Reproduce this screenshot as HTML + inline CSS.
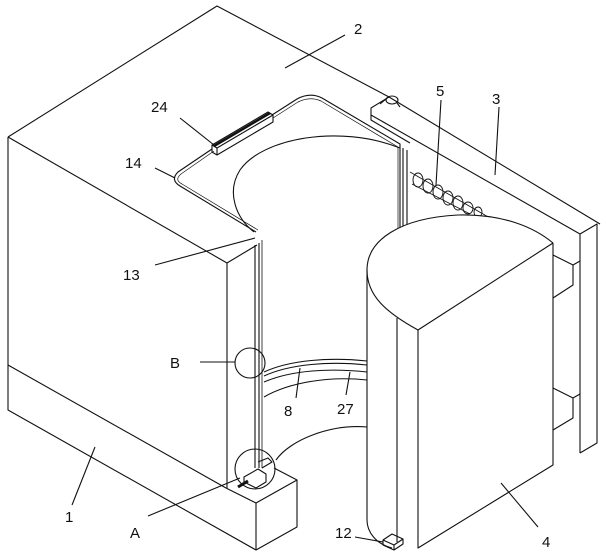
<!DOCTYPE html>
<html><head><meta charset="utf-8"><style>
html,body{margin:0;padding:0;background:#fff;}
svg{display:block;}
text{font-family:"Liberation Sans",sans-serif;font-size:15px;fill:#111;}
</style></head><body>
<svg width="606" height="559" viewBox="0 0 606 559" xmlns="http://www.w3.org/2000/svg">
<g fill="none" stroke="#111" stroke-width="1.1" stroke-linejoin="round">
<!-- top face box 2 -->
<path d="M8,137 L217,6 L389,97"/>
<path d="M389,97 L600,224"/>
<!-- left box 1 -->
<path d="M8,137 L8,410 L256,550"/>
<path d="M8,137 L227,263"/>
<path d="M8,365 L226,488"/>
<path d="M227,263 L227,488"/>
<path d="M227,263 L257,245"/>
<path d="M255,245 L255,468"/>
<path d="M259,243 L259,468"/>
<path d="M262,240 L262,468" stroke-width="0.8"/>
<!-- pedestal -->
<path d="M226,488 L256,503 L297,480 L274,468"/>
<path d="M256,503 L256,550 L297,527 L297,480"/>
<!-- cutout arc -->
<path d="M254,232 C236,218 226,192 240,170 C262,138 340,124 400,148"/>
<!-- wire 14 -->
<path d="M256,232 L180,186 Q170,180 178,172 L212,149"/>
<path d="M258,230 L182,184 Q174,180 181,174 L214,151" stroke-width="0.7"/>
<path d="M272,115 L297,99 Q310,92 322,98 L400,144 L400,240"/>
<path d="M273,118 L298,102 Q310,96 321,101 L398,147 L398,240" stroke-width="0.7"/>
<path d="M403,148 L403,240"/>
<path d="M407,150 L407,240"/>
<!-- box 24 -->
<path d="M212,145 L268,112 L273,115 L273,122 L217,155 L212,152 Z"/>
<path d="M212,145 L217,148 L273,115 M217,148 L217,155"/>
<path d="M214,146 L270,113" stroke-width="2.5"/>
<!-- frame 3 -->
<path d="M371,115 L580,234 L580,453 M580,234 L597,224 L597,443 L580,453"/>
<path d="M371,115 L371,120 L410,143"/>
<path d="M389,97 L371,108 L371,115"/>
<ellipse cx="392" cy="100" rx="6" ry="4"/>
<path d="M380,104 L386,99 M397,103 L400,107"/>
<!-- springs -->
<path d="M410,172 L490,218 M412,184 L470,214" stroke-width="0.8"/>
<g stroke-width="0.9">
<ellipse cx="418" cy="180" rx="5" ry="7"/><ellipse cx="428" cy="186" rx="5" ry="7"/><ellipse cx="438" cy="192" rx="5" ry="7"/><ellipse cx="448" cy="198" rx="5" ry="7"/><ellipse cx="458" cy="203" rx="5" ry="7"/><ellipse cx="468" cy="208" rx="5" ry="6"/><ellipse cx="478" cy="212" rx="4" ry="5"/>
</g>
<!-- cylinder 4 -->
<path d="M367,270 C367,240 400,218 458,215 C505,214 535,228 553,243" fill="#fff"/>
<path d="M367,270 C367,295 385,312 418,330"/>
<path d="M553,243 L418,330"/>
<path d="M418,330 L418,548 L553,465 L553,243"/>
<path d="M397,318 L397,542"/>
<path d="M367,270 L367,520 C367,532 376,544 392,548"/>
<!-- brackets -->
<path d="M553,255 L573,265 L580,261 M573,265 L573,285 L553,298"/>
<path d="M553,388 L573,398 L580,394 M573,398 L573,418 L553,430"/>
<!-- track arcs -->
<path d="M264,372 C290,360 330,357 367,361"/>
<path d="M264,376 C290,364 330,361 367,365"/>
<path d="M264,382 C292,370 330,368 367,372"/>
<path d="M264,397 C290,382 330,376 367,380"/>
<path d="M276,460 C290,440 330,424 367,427"/>
<!-- B circle -->
<circle cx="250" cy="363" r="15"/>
<!-- A circle -->
<circle cx="255" cy="469" r="20"/>
<path d="M244,477 L258,469 L266,474 L266,482 L256,488 L244,482 Z"/>
<path d="M258,462 L268,458 L272,462 L262,468"/>
<path d="M238,487 L248,481" stroke-width="3"/>
<!-- 12 box -->
<path d="M383,540 L392,534 L403,539 L403,544 L394,550 L383,545 Z M383,540 L394,545 L403,539 M394,545 L394,550"/>
<!-- leaders -->
<path d="M285,68 L345,35"/>
<path d="M180,118 L214,145"/>
<path d="M155,168 L175,178"/>
<path d="M155,265 L255,238"/>
<path d="M441,100 L436,185"/>
<path d="M499,107 L495,175"/>
<path d="M200,362 L235,362"/>
<path d="M300,368 L296,398"/>
<path d="M350,372 L346,395"/>
<path d="M95,447 L72,505"/>
<path d="M148,516 L240,478"/>
<path d="M355,537 L383,542"/>
<path d="M538,527 L501,483"/>
</g>
<text x="354" y="34">2</text>
<text x="151" y="112">24</text>
<text x="125" y="168">14</text>
<text x="123" y="280">13</text>
<text x="436" y="96">5</text>
<text x="492" y="104">3</text>
<text x="170" y="368">B</text>
<text x="284" y="416">8</text>
<text x="337" y="414">27</text>
<text x="65" y="522">1</text>
<text x="130" y="538">A</text>
<text x="335" y="538">12</text>
<text x="542" y="547">4</text>
</svg>
</body></html>
